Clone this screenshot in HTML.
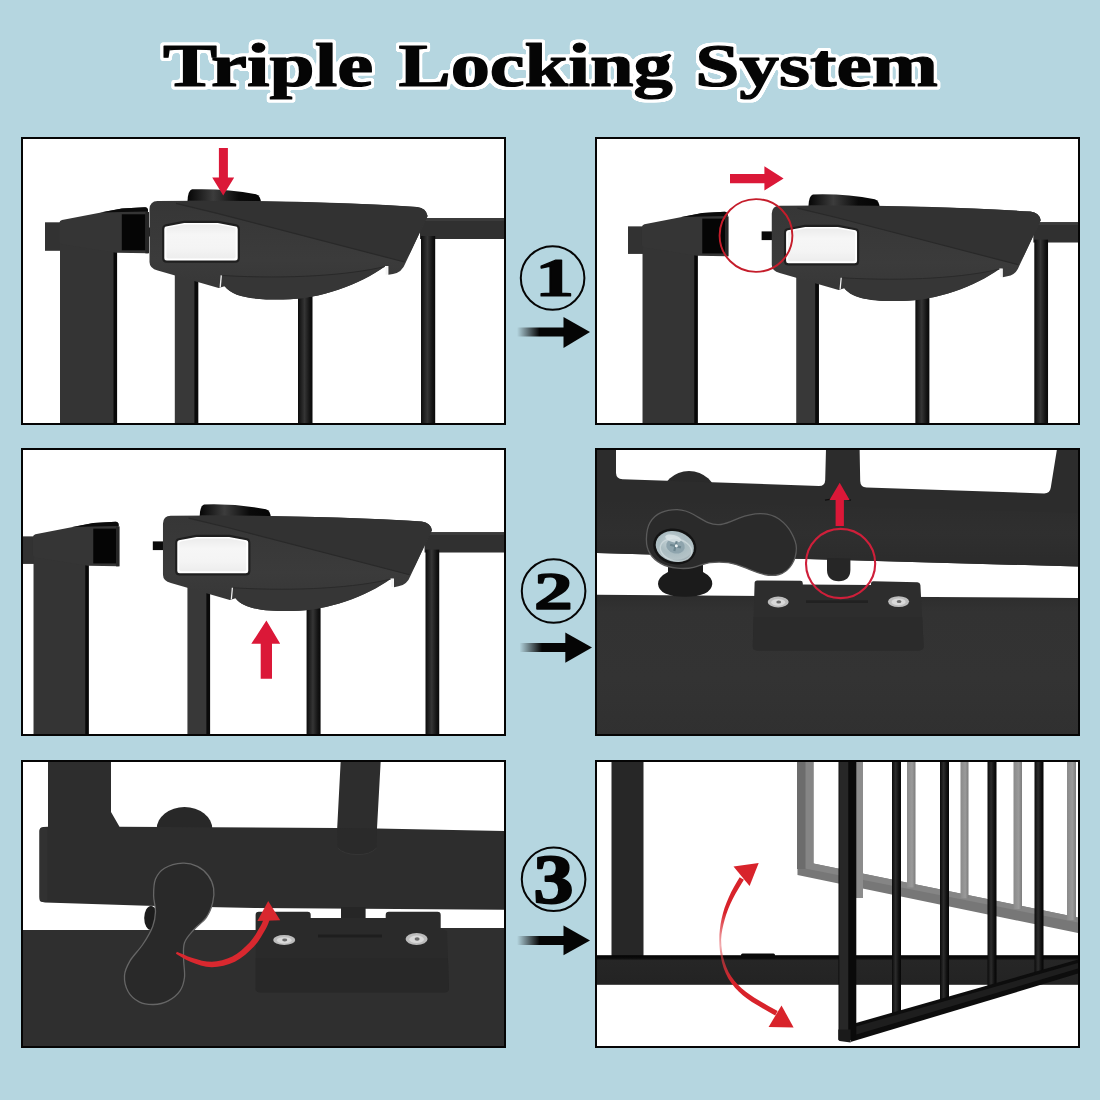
<!DOCTYPE html>
<html lang="en">
<head>
<meta charset="utf-8">
<title>Triple Locking System</title>
<style>
html,body{margin:0;padding:0;background:#b5d6e0;}
body{width:1100px;height:1100px;overflow:hidden;position:relative;font-family:"Liberation Serif","DejaVu Serif",serif;}
svg{position:absolute;left:0;top:0;display:block;}
.title{font-family:"Liberation Serif","DejaVu Serif",serif;font-weight:bold;font-size:60px;fill:#050505;stroke:#050505;stroke-width:1.2px;stroke-linejoin:round;}
.num{font-family:"Liberation Serif","DejaVu Serif",serif;font-weight:bold;font-size:60px;fill:#050505;stroke:#050505;stroke-linejoin:round;text-anchor:middle;}
</style>
</head>
<body>
<svg id="art" width="1100" height="1100" viewBox="0 0 1100 1100">
<defs>
  <linearGradient id="fade" x1="0" x2="1" y1="0" y2="0">
    <stop offset="0" stop-color="#050505" stop-opacity="0"/>
    <stop offset="0.45" stop-color="#050505" stop-opacity="1"/>
    <stop offset="1" stop-color="#050505" stop-opacity="1"/>
  </linearGradient>

  <linearGradient id="cyl" x1="0" x2="1" y1="0" y2="0">
    <stop offset="0" stop-color="#0c0c0c"/>
    <stop offset="0.45" stop-color="#353535"/>
    <stop offset="0.8" stop-color="#141414"/>
    <stop offset="1" stop-color="#080808"/>
  </linearGradient>
  <linearGradient id="btn" x1="0" x2="0" y1="0" y2="1">
    <stop offset="0" stop-color="#ececec"/>
    <stop offset="0.3" stop-color="#f6f6f6"/>
    <stop offset="0.7" stop-color="#f4f4f4"/>
    <stop offset="1" stop-color="#ededed"/>
  </linearGradient>
  <linearGradient id="knob" x1="0" x2="1" y1="0" y2="0">
    <stop offset="0" stop-color="#050505"/>
    <stop offset="0.35" stop-color="#3c3c3c"/>
    <stop offset="0.7" stop-color="#0a0a0a"/>
    <stop offset="1" stop-color="#050505"/>
  </linearGradient>
  <linearGradient id="bodyg" x1="0" x2="0" y1="0" y2="1">
    <stop offset="0" stop-color="#363636"/>
    <stop offset="0.6" stop-color="#3b3b3b"/>
    <stop offset="1" stop-color="#353535"/>
  </linearGradient>

  <!-- wall bracket + post (panel-1 coordinates) -->
  <g id="bracket">
    <rect x="45" y="222.3" width="16" height="28.5" fill="#323232"/>
    <rect x="60" y="240" width="57" height="200" fill="#343434"/>
    <rect x="113.5" y="250" width="3.6" height="190" fill="#080808"/>
    <path d="M59.4,223 Q59.6,220.6 62,220 L122,208.5 L145,207.3 Q148,207.6 148,210.5 L148,253.3 L116,252.7 L62,244.2 Q59.4,243.5 59.4,241 Z" fill="#353535"/>
    <path d="M100,212.6 L122,208.5 L145,207.3 Q148,207.6 148,210.5 L148,211.5 L122,212 Z" fill="#0b0b0b"/>
    <rect x="121.8" y="214.3" width="23.6" height="36" fill="#050505"/>
    <rect x="145.4" y="212" width="3.6" height="41.3" fill="#262626"/>
  </g>

  <!-- gate top corner with latch (panel-1 coordinates) -->
  <g id="gate">
    <rect x="420" y="218" width="95" height="21" fill="#303030"/>
    <rect x="420" y="218" width="95" height="3" fill="#3b3b3b"/>
    <rect x="174.8" y="255" width="23.4" height="180" fill="#383838"/>
    <rect x="194.4" y="270" width="3.8" height="165" fill="#0a0a0a"/>
    <rect x="298" y="285" width="14.5" height="150" fill="url(#cyl)"/>
    <rect x="421" y="236" width="14.2" height="200" fill="url(#cyl)"/>
    <rect x="139" y="227.5" width="12" height="9" fill="#0a0a0a"/>
    <path d="M187.5,201.5 Q187.8,190.5 192,189.3 Q225,188.2 256,194.2 Q260.8,195.6 261,203 Z" fill="url(#knob)"/>
    <path d="M149.5,209 Q149.8,201.3 157.5,201 Q300,199.6 417,207 Q426.2,208 427.6,216 L405.5,263 Q402,272.5 393,274 L388.4,274.8 L388.4,266 L385,266 C360,284.5 320,299.3 283,299.6 C255,299.8 233.5,297.6 224.6,286.2 L218.6,288 L157.7,270.4 Q149.6,268.5 149.5,262 Z" fill="url(#bodyg)"/>
    <path d="M176,203.4 L217.3,213.4 L404.5,262 L410,253 L427.6,216 Q426.2,208 417,207 Q360,203 262,201.6 L190,200.8 Z" fill="#323232"/>
    <path d="M176,203.4 L217.3,213.4 L404.5,262" stroke="#292929" stroke-width="1.2" fill="none"/>
    <path d="M222.3,275.5 C222.6,281 223,284 224.6,286.2 C233.5,297.6 255,299.8 283,299.6 C320,299.3 360,284.5 385,266.5 C350,275 290,279.5 222.5,275.5 Z" fill="#363636"/>
    <path d="M222.5,275.5 C290,279.5 350,275 385,266.5" stroke="#292929" stroke-width="1" fill="none"/>
    <path d="M221.3,275.4 L220.2,287.4" stroke="#f4f4f4" stroke-width="1.3" fill="none"/>
    <path d="M386.7,266.3 L386.7,274.6" stroke="#f2f2f2" stroke-width="2.2" fill="none"/>
    <path d="M163.2,229 Q163.2,226 165.8,225.3 L184,221.8 L218,221.8 L236.2,225.3 Q238.8,226 238.8,229 L238.8,258 Q238.8,261.6 235.2,261.6 L166.8,261.6 Q163.2,261.6 163.2,258 Z" fill="#ffffff" stroke="#1f1f1f" stroke-width="2.2" stroke-linejoin="round"/>
    <path d="M166.4,229.6 Q166.4,228 168,227.6 L184.6,224.6 L217.4,224.6 L234,227.6 Q235.6,228 235.6,229.6 L235.6,256.4 Q235.6,258.4 233.6,258.4 L168.4,258.4 Q166.4,258.4 166.4,256.4 Z" fill="url(#btn)"/>
  </g>

  <radialGradient id="screw" cx="0.42" cy="0.38" r="0.65">
    <stop offset="0" stop-color="#c9d6da"/>
    <stop offset="0.55" stop-color="#aabcc1"/>
    <stop offset="0.85" stop-color="#b4c3c7"/>
    <stop offset="1" stop-color="#8a9ba1"/>
  </radialGradient>
  <linearGradient id="floor" x1="0" x2="0" y1="0" y2="1">
    <stop offset="0" stop-color="#2d2d2d"/>
    <stop offset="0.12" stop-color="#323232"/>
    <stop offset="0.6" stop-color="#333333"/>
    <stop offset="1" stop-color="#303030"/>
  </linearGradient>
  <g id="hole">
    <ellipse cx="0" cy="0" rx="10.5" ry="5.4" fill="#bdbdbd"/>
    <ellipse cx="0" cy="0.3" rx="7" ry="3.4" fill="#d9d9d9"/>
    <ellipse cx="0.5" cy="0" rx="2.4" ry="1.5" fill="#6b6b6b"/>
  </g>

  <linearGradient id="fade6" gradientUnits="userSpaceOnUse" x1="0" x2="0" y1="863" y2="1028">
    <stop offset="0" stop-color="#d8232b" stop-opacity="1"/>
    <stop offset="0.3" stop-color="#d8232b" stop-opacity="1"/>
    <stop offset="0.5" stop-color="#e0474e" stop-opacity="0.45"/>
    <stop offset="0.72" stop-color="#d8232b" stop-opacity="1"/>
    <stop offset="1" stop-color="#d8232b" stop-opacity="1"/>
  </linearGradient>
  <linearGradient id="gbar" x1="0" x2="1" y1="0" y2="0">
    <stop offset="0" stop-color="#8a8a8a"/>
    <stop offset="0.6" stop-color="#9a9a9a"/>
    <stop offset="1" stop-color="#7c7c7c"/>
  </linearGradient>
  <linearGradient id="bbar" x1="0" x2="1" y1="0" y2="0">
    <stop offset="0" stop-color="#0a0a0a"/>
    <stop offset="0.4" stop-color="#2c2c2c"/>
    <stop offset="0.75" stop-color="#101010"/>
    <stop offset="1" stop-color="#050505"/>
  </linearGradient>
  <linearGradient id="thr" x1="0" x2="0" y1="0" y2="1">
    <stop offset="0" stop-color="#050505"/>
    <stop offset="0.1" stop-color="#0b0b0b"/>
    <stop offset="0.18" stop-color="#262626"/>
    <stop offset="1" stop-color="#232323"/>
  </linearGradient>

  <filter id="halo" x="-5%" y="-20%" width="110%" height="140%" color-interpolation-filters="sRGB">
    <feMorphology in="SourceAlpha" operator="dilate" radius="3" result="d"/>
    <feGaussianBlur in="d" stdDeviation="0.9" result="b"/>
    <feComponentTransfer in="b" result="t"><feFuncA type="linear" slope="6" intercept="-2.2"/></feComponentTransfer>
    <feFlood flood-color="#ffffff" result="w"/>
    <feComposite in="w" in2="t" operator="in" result="h"/>
    <feMerge><feMergeNode in="h"/><feMergeNode in="SourceGraphic"/></feMerge>
  </filter>
  <linearGradient id="railg" x1="0" x2="0" y1="0" y2="1">
    <stop offset="0" stop-color="#2c2c2c"/>
    <stop offset="0.5" stop-color="#2f2f2f"/>
    <stop offset="1" stop-color="#2b2b2b"/>
  </linearGradient>
  <clipPath id="c1"><rect x="23" y="139" width="481" height="284"/></clipPath>
  <clipPath id="c2"><rect x="597" y="139" width="481" height="284"/></clipPath>
  <clipPath id="c3"><rect x="23" y="450" width="481" height="284"/></clipPath>
  <clipPath id="c4"><rect x="597" y="450" width="481" height="284"/></clipPath>
  <clipPath id="c5"><rect x="23" y="762" width="481" height="284"/></clipPath>
  <clipPath id="c6"><rect x="597" y="762" width="481" height="284"/></clipPath>
</defs>
<rect width="1100" height="1100" fill="#b5d6e0"/>

<!-- TITLE -->
<g id="title" class="title" filter="url(#halo)">
  <text transform="translate(163,86.3) scale(1.352,1.03)">Triple</text>
  <text transform="translate(398.5,86.3) scale(1.305,1.03)">Locking</text>
  <text transform="translate(695.2,86.3) scale(1.324,1.03)">System</text>
</g>

<!-- PANEL BACKGROUNDS -->
<g id="panels" fill="#ffffff">
  <rect x="22" y="138" width="483" height="286"/>
  <rect x="596" y="138" width="483" height="286"/>
  <rect x="22" y="449" width="483" height="286"/>
  <rect x="596" y="449" width="483" height="286"/>
  <rect x="22" y="761" width="483" height="286"/>
  <rect x="596" y="761" width="483" height="286"/>
</g>

<!-- P1 -->
<g id="p1" clip-path="url(#c1)">
  <use href="#gate"/>
  <use href="#bracket"/>
  <polygon points="218.9,148 227.9,148 227.9,177.4 234.2,177.4 223.2,195.6 212.2,177.4 218.9,177.4" fill="#db1838"/>
</g>
<!-- P2 -->
<g id="p2" clip-path="url(#c2)">
  <use href="#gate" transform="translate(627.2,11.4) scale(0.967)"/>
  <use href="#bracket" transform="translate(584.5,11.4) scale(0.967)"/>
  <circle cx="756" cy="235.5" r="36.4" fill="none" stroke="#c51d2b" stroke-width="1.9"/>
  <polygon points="730,174 764.4,174 764.4,166.3 783.6,178.4 764.4,190.6 764.4,183.2 730,183.2" fill="#db1838"/>
</g>
<!-- P3 -->
<g id="p3" clip-path="url(#c3)">
  <use href="#gate" transform="translate(18.4,321.4) scale(0.967)"/>
  <use href="#bracket" transform="translate(-24.5,321.4) scale(0.967)"/>
  <polygon points="260.7,678.7 260.7,643.8 251.3,643.8 266.4,620.5 280.2,643.8 272,643.8 272,678.7" fill="#db1838"/>
</g>
<!-- P4 -->
<g id="p4" clip-path="url(#c4)">
  <!-- gate lower rail seen from the side -->
  <ellipse cx="689" cy="497" rx="27.4" ry="26" fill="#2a2a2a"/>
  <path d="M596,449 L616,449 L616,473 Q616.3,479 622.5,479.2 L819,486 Q825,486 825.2,480 L826,449 L859.6,449 L860.2,481 Q860.4,487.3 866.5,487.5 L1044,493.4 Q1050,493.5 1050.8,487.5 L1057,449 L1079,449 L1079,566.6 L596,553 Z" fill="#2c2c2c"/>
  <path d="M596,500 L1079,513 L1079,566.6 L596,553 Z" fill="url(#railg)"/>
  <path d="M825,500.2 Q838,497.4 851,500.2" stroke="#0e0e0e" stroke-width="1.2" fill="none"/>
  <!-- drop pin -->
  <path d="M827,558 L850.4,558.6 L850.4,570 Q850,581.2 838.7,581.2 Q827.2,581 827,570 Z" fill="#262626"/>
  <!-- threshold -->
  <path d="M596,594.8 L1079,598 L1079,735 L596,735 Z" fill="url(#floor)"/>
  <!-- pivot foot -->
  <path d="M668,560 L703,560 L703,572 Q712.5,577 712.3,584 Q711,596.5 685,596.8 Q659,596.5 658,584 Q658,577 668,572 Z" fill="#1b1b1b"/>
  <!-- lock block -->
  <path d="M754.6,583 Q754.6,580.4 757.2,580.4 L800.4,580.8 Q802.8,580.8 802.8,583.2 L802.8,584.6 L871,585 L871,583.6 Q871,581.2 873.4,581.2 L917.4,582.2 Q920,582.4 920.4,585 L923.6,646 Q923.8,650.4 919.4,650.4 L757,650.4 Q752.6,650.4 752.8,646 Z" fill="#2d2d2d"/>
  <path d="M753.5,617 L922.2,617 L923.6,646 Q923.8,650.4 919.4,650.4 L757,650.4 Q752.6,650.4 752.8,646 Z" fill="#2b2b2b"/>
  <rect x="806" y="600.4" width="62" height="2.6" fill="#212121"/>
  <use href="#hole" transform="translate(778.2,602)"/>
  <use href="#hole" transform="translate(898.6,601.6)"/>
  <!-- lever -->
  <path d="M646.4,539 C646.6,531 648,526 650,522.7 C653,517.5 656.5,514.6 661,512.7 C666,510.4 671,509.5 677.3,509.6 C683,509.8 688.5,511.6 693.6,514.5 C699,517.6 703.5,520.8 708.2,522.7 C712.5,524.5 716.5,525 721,524.5 C727,523.7 733,520.6 739,518.2 C746,515.4 753,513.4 761,513.6 C768,513.8 774,515.4 779,519 C785,523.3 789,528 791.8,533.6 C794.5,538.6 796.4,543 796.4,548.2 C796.4,554 794.8,559.6 791.8,564.5 C788.6,569.8 784.5,573 779,574.5 C774.5,575.7 769.5,575.6 764.5,574.5 C758.5,573.2 752.5,570.6 746.4,568.2 C740.5,565.9 734.5,563.6 728.2,562.7 C722,561.8 716,561.8 710,562.7 C704.5,563.6 699,565.9 693.6,567.3 C688.2,568.7 682.8,568.7 677.3,568.2 C671.6,567.6 666,566.4 661,563.6 C656.3,561 652.6,557.8 650,553.6 C647.4,549.4 646.3,544.5 646.4,539 Z" fill="#2a2a2a" stroke="#5a5a5a" stroke-width="1.3"/>
  <g transform="translate(674.8,546.5) rotate(14)">
    <ellipse rx="21.8" ry="17.8" fill="#131313"/>
    <ellipse rx="19.3" ry="15.2" fill="url(#screw)"/>
    <ellipse cx="2" cy="3" rx="16" ry="11" fill="none" stroke="#dfe7e9" stroke-width="1.4" opacity="0.55"/>
    <ellipse cx="0.6" cy="-0.6" rx="9.4" ry="7.4" fill="#8ea4ad"/>
    <ellipse cx="-3.6" cy="-7.4" rx="8" ry="3.6" fill="#dbe5e8" opacity="0.85"/>
    <path d="M-5,-0.6 L6.2,-0.6 M0.6,-5.6 L0.6,4.6" stroke="#6d8690" stroke-width="2.2" fill="none"/>
    <circle cx="1.4" cy="-1" r="1.5" fill="#eef4f6"/>
  </g>
  <!-- annotations -->
  <circle cx="840.6" cy="563.5" r="34.6" fill="none" stroke="#cf1f3a" stroke-width="2.1"/>
  <polygon points="835.6,526 835.6,499.9 829.5,499.9 839.7,482.7 849.6,499.9 843.9,499.9 843.9,526" fill="#db1838"/>
</g>
<!-- P5 -->
<g id="p5" clip-path="url(#c5)">
  <!-- gate corner post, lower rail -->
  <ellipse cx="184.5" cy="829" rx="27.8" ry="22" fill="#282828"/>
  <path d="M48,761 L111,761 L111,812 L119.5,826.8 L337.2,828 L340.7,761 L380.7,761 L377,828.5 L505,831 L505,909.8 L254.5,908 L147,905.7 L45,902.4 Q39.5,902 39.5,897 L39.5,831 Q39.5,827 43.5,826.9 L48,826.8 Z" fill="#2d2d2d"/>
  <rect x="39.5" y="828" width="8" height="74" rx="3" fill="#313131"/>
  <path d="M337.4,828 L377,828.5 L376.6,848 Q370,855 357,854.6 Q344,854.4 337.6,848 Z" fill="#2a2a2a"/>
  <path d="M337.6,848 Q344,854.4 357,854.6 Q370,855 376.6,848" fill="none" stroke="#353535" stroke-width="1"/>
  <!-- threshold -->
  <path d="M22,930 L255,930 L442,928 L505,928 L505,1048 L22,1048 Z" fill="#2f2f2f"/>
  <!-- pin + foot -->
  <rect x="341" y="907" width="24.6" height="14" fill="#262626"/>
  <ellipse cx="151" cy="918" rx="6.8" ry="12" fill="#1c1c1c"/>
  <!-- lock block -->
  <path d="M255.6,915 Q255.6,911.8 258.8,911.8 L307.6,911.8 Q310.7,911.8 310.7,915 L310.7,918 L385.7,918 L385.7,915 Q385.7,911.8 388.9,911.8 L437.5,911.8 Q440.7,911.8 440.7,915 L440.7,928 L447,931 L449,988 Q449,992.4 444.6,992.4 L260,992.4 Q255.6,992.4 255.6,988 Z" fill="#2a2a2a"/>
  <path d="M255.6,958 L447.8,958 L449,988 Q449,992.4 444.6,992.4 L260,992.4 Q255.6,992.4 255.6,988 Z" fill="#282828"/>
  <rect x="318" y="934.5" width="64" height="3" fill="#1e1e1e"/>
  <use href="#hole" transform="translate(284.2,940) scale(1.05,0.92)"/>
  <use href="#hole" transform="translate(416.6,939) scale(1.05,1.1)"/>
  <!-- lever turned down -->
  <path d="M182.7,863.1 C177.2,863.4 169.0,865.5 164.5,868.2 C160.0,870.9 157.3,874.6 155.5,879.1 C153.7,883.6 153.6,890.0 153.6,895.5 C153.6,901.0 155.7,906.6 155.5,911.8 C155.3,916.9 154.8,920.9 152.7,926.4 C150.6,931.9 146.5,938.8 142.7,944.5 C138.9,950.2 133.0,955.7 130.0,960.9 C127.0,966.1 124.8,970.4 124.5,975.5 C124.2,980.6 125.8,987.4 128.2,991.8 C130.6,996.2 134.9,999.7 139.1,1001.8 C143.3,1003.9 148.8,1004.6 153.6,1004.5 C158.4,1004.4 163.8,1003.2 168.2,1000.9 C172.6,998.6 177.3,994.8 180.0,990.9 C182.7,987.0 183.9,982.6 184.5,977.3 C185.1,972.0 183.6,964.9 183.6,959.1 C183.6,953.3 182.8,947.6 184.5,942.7 C186.2,937.9 189.9,934.2 193.6,930.0 C197.2,925.8 203.2,921.8 206.4,917.3 C209.6,912.8 211.5,907.6 212.7,902.7 C213.9,897.9 214.3,892.7 213.6,888.2 C212.8,883.7 210.9,879.1 208.2,875.5 C205.5,871.9 201.6,868.5 197.3,866.4 C193.1,864.3 188.2,862.8 182.7,863.1 Z" fill="#292929" stroke="#666666" stroke-width="1.3"/>
  <!-- rotation arrow -->
  <path d="M175.9,953.7 L178.4,955.3 L182.1,957.5 L186.5,960.0 L191.0,962.1 L195.7,963.8 L200.8,965.4 L206.2,966.7 L211.8,967.2 L217.6,966.8 L223.5,965.7 L229.3,964.0 L234.9,961.7 L240.2,958.6 L245.3,954.8 L249.9,950.6 L254.0,946.5 L257.6,942.2 L260.7,937.6 L263.2,933.3 L265.3,929.7 L267.0,926.5 L268.2,923.7 L269.0,921.6 L269.6,920.1 L264.0,917.9 L263.4,919.4 L262.7,921.4 L261.6,923.9 L260.1,926.7 L258.0,930.3 L255.6,934.4 L252.8,938.6 L249.6,942.5 L245.8,946.3 L241.5,950.2 L236.9,953.7 L232.3,956.5 L227.4,958.6 L222.1,960.3 L216.8,961.3 L211.8,961.8 L206.9,961.6 L202.0,960.7 L197.1,959.3 L192.6,957.9 L188.0,956.4 L183.6,954.6 L179.7,952.9 L176.9,951.7 Z" fill="#d9282f"/>
  <polygon points="268.2,900.9 257.4,921 280.2,920.2" fill="#d9282f"/>
</g>
<!-- P6 -->
<g id="p6" clip-path="url(#c6)">
  <!-- ghost (open position) gate in grey -->
  <path d="M797,761 L813.5,761 L813.5,863.5 L1080,917.8 L1080,933.5 L797.5,875 Z" fill="#777777"/>
  <path d="M805,761 L813.5,761 L813.5,863.5 L1080,917.8 L1080,922.8 L805,868.5 Z" fill="#858585"/>
  <rect x="857" y="761" width="6" height="116.0" fill="url(#gbar)"/>
  <rect x="907" y="761" width="8.5" height="126.4" fill="url(#gbar)"/>
  <rect x="960.5" y="761" width="8.0" height="137.3" fill="url(#gbar)"/>
  <rect x="1013.5" y="761" width="8.5" height="148.1" fill="url(#gbar)"/>
  <rect x="1067" y="761" width="9" height="159.1" fill="url(#gbar)"/>
  <rect x="797" y="761" width="8.5" height="108" fill="#6c6c6c"/>
  <rect x="856" y="761" width="7" height="137" fill="#8c8c8c"/>
  <!-- wall post + threshold -->
  <rect x="611.5" y="761" width="32" height="207" fill="#272727"/>
  <rect x="596" y="955.2" width="484" height="29.6" fill="url(#thr)"/>
  <rect x="741" y="953.6" width="34" height="4.6" rx="1.5" fill="#0a0a0a"/>
  <!-- gate in front -->
  <rect x="892" y="761" width="9" height="255.5" fill="url(#bbar)"/>
  <rect x="940" y="761" width="9" height="242.5" fill="url(#bbar)"/>
  <rect x="987.5" y="761" width="9.0" height="229.0" fill="url(#bbar)"/>
  <rect x="1034.5" y="761" width="9.0" height="215.5" fill="url(#bbar)"/>
  <path d="M856,1023 L1080,959 L1080,973 L850.5,1042 Z" fill="#0d0d0d"/>
  <path d="M856,1026.5 L1080,962.5 L1080,968 L853,1035.5 Z" fill="#1e1e1e"/>
  <rect x="838.5" y="761" width="17.8" height="279" fill="#0a0a0a"/>
  <rect x="839.3" y="761" width="9" height="270" fill="#272727"/>
  <path d="M838.3,1029.5 L850.6,1029.5 L850.6,1042.4 L839.6,1041 Q838.3,1040.6 838.3,1039 Z" fill="#1a1a1a"/>
  <!-- swing arrow -->
  <path d="M739.7,877.2 L737.4,881.0 L734.2,886.5 L731.2,892.1 L728.7,897.4 L726.5,902.7 L724.5,908.1 L722.9,913.4 L721.6,918.7 L720.6,924.0 L719.9,929.2 L719.4,934.4 L719.3,939.8 L719.4,945.6 L720.0,951.5 L720.9,957.3 L722.1,962.8 L723.6,968.1 L725.7,973.3 L728.3,978.4 L731.5,983.3 L735.0,987.8 L738.9,991.8 L743.0,995.4 L747.3,998.8 L751.9,1001.9 L756.6,1004.8 L761.2,1007.6 L766.4,1010.5 L771.6,1013.4 L775.2,1015.4 L777.6,1011.0 L774.0,1009.0 L768.9,1006.2 L763.8,1003.2 L759.1,1000.5 L754.5,997.8 L750.1,994.8 L745.9,991.8 L741.9,988.6 L738.2,985.0 L734.6,980.9 L731.3,976.5 L728.5,971.9 L726.3,967.1 L724.5,962.1 L723.1,956.9 L722.0,951.3 L721.4,945.4 L721.1,939.8 L721.5,934.6 L722.3,929.6 L723.4,924.6 L724.7,919.5 L726.2,914.4 L728.1,909.3 L730.2,904.3 L732.6,899.2 L735.2,894.3 L738.3,888.9 L741.6,883.5 L743.9,879.8 Z" fill="url(#fade6)"/>
  <polygon points="758.7,863 733.5,866.4 749.6,885.9" fill="#d8232b"/>
  <polygon points="793.6,1027.5 781.5,1005.4 768.6,1027" fill="#d8232b"/>
</g>

<!-- PANEL BORDERS -->
<g id="borders" fill="none" stroke="#050505" stroke-width="2">
  <rect x="22" y="138" width="483" height="286"/>
  <rect x="596" y="138" width="483" height="286"/>
  <rect x="22" y="449" width="483" height="286"/>
  <rect x="596" y="449" width="483" height="286"/>
  <rect x="22" y="761" width="483" height="286"/>
  <rect x="596" y="761" width="483" height="286"/>
</g>

<!-- STEP MARKERS -->
<g id="steps">
  <g fill="none" stroke="#050505" stroke-width="2">
    <circle cx="552.6" cy="278" r="31.8"/>
    <circle cx="553.6" cy="591" r="31.8"/>
    <circle cx="553.6" cy="879.3" r="31.8"/>
  </g>
  <text class="num" transform="translate(554.6,295.8) scale(1.46,1)" style="font-size:54px;stroke-width:1.2px">1</text>
  <text class="num" transform="translate(553.3,608.6) scale(1.46,1)" style="font-size:53px;stroke-width:1.5px">2</text>
  <text class="num" transform="translate(553.4,902.6) scale(1.16,1)" style="font-size:69px;stroke-width:2px">3</text>
  <rect x="517" y="327.5" width="50" height="9" fill="url(#fade)"/>
  <polygon points="563.5,317 590,332 563.5,348" fill="#050505"/>
  <rect x="519.5" y="643" width="50" height="9" fill="url(#fade)"/>
  <polygon points="565.3,632.5 592,647.5 565.3,662.7" fill="#050505"/>
  <rect x="517" y="936" width="50" height="9" fill="url(#fade)"/>
  <polygon points="563.5,925.5 590,940.4 563.5,955.3" fill="#050505"/>
</g>
</svg>
</body>
</html>
